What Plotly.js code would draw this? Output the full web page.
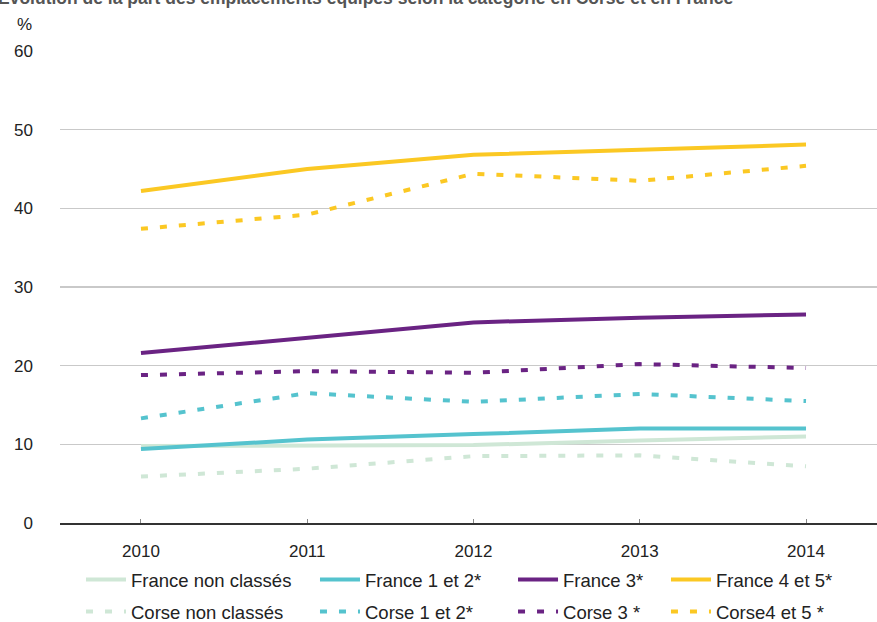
<!DOCTYPE html>
<html>
<head>
<meta charset="utf-8">
<script src="https://cdn.plot.ly/plotly-3.0.1.min.js"></script>
<style>html,body{margin:0;padding:0;background:#fff;}#chart{width:877px;height:622px;}</style>
</head>
<body>
<div id="chart"></div>
<script>
const years = [2010, 2011, 2012, 2013, 2014];
const seriesNames = ["France non classés", "Corse non classés", "France 1 et 2*", "Corse 1 et 2*", "France 3*", "Corse 3 *", "France 4 et 5*", "Corse4 et 5 *"];
const franceNonClasses = [9.8, 9.85, 9.9, 10.5, 11.0];
const corseNonClasses = [5.9, 6.9, 8.5, 8.6, 7.2];
const france12 = [9.4, 10.6, 11.3, 12.0, 12.0];
const corse12 = [13.3, 16.5, 15.4, 16.4, 15.5];
const france3 = [21.6, 23.6, 25.5, 26.1, 26.5];
const corse3 = [18.8, 19.3, 19.1, 20.2, 19.7];
const france45 = [42.2, 45.0, 46.8, 47.5, 48.1];
const corse45 = [37.4, 39.2, 44.4, 43.5, 45.4];
const yTicks = [0, 10, 20, 30, 40, 50, 60];

const colors = ["#cfe7d6", "#cfe7d6", "#55c3ce", "#55c3ce", "#6a2383", "#6a2383", "#fbc823", "#fbc823"];
const values = [franceNonClasses, corseNonClasses, france12, corse12, france3, corse3, france45, corse45];
const legendIds = ["legend", "legend", "legend2", "legend2", "legend3", "legend3", "legend4", "legend4"];

const traces = values.map((v, i) => ({
  x: years, y: v, type: "scatter", mode: "lines", name: seriesNames[i],
  legend: legendIds[i], legendgroup: "g" + i,
  line: {color: colors[i], width: 4, dash: (i % 2 === 1) ? "7px,12px" : "solid"},
  hoverinfo: "skip"
}));

const legendFont = {family: "Liberation Sans, Arial, sans-serif", size: 18.5, color: "#222"};
function mkLegend(x) {
  return {x: x, xanchor: "left", y: 0.098, yref: "container", yanchor: "top", orientation: "v",
    font: legendFont, tracegroupgap: 5, bgcolor: "rgba(0,0,0,0)", borderwidth: 0, itemwidth: 40};
}

const layout = {
  width: 877, height: 622,
  margin: {l: 60, r: 0, t: 51, b: 99},
  paper_bgcolor: "#fff", plot_bgcolor: "#fff",
  font: {family: "Liberation Sans, Arial, sans-serif", size: 17, color: "#222"},
  title: {text: "Évolution de la part des emplacements équipés selon la catégorie en Corse et en France",
    font: {family: "Liberation Sans, Arial, sans-serif", size: 17.5, color: "#555", weight: "bold"},
    x: 0, xref: "container", xanchor: "left", y: 0.994, yref: "container", yanchor: "bottom", pad: {l: -2}},
  xaxis: {range: [2009.513, 2014.427], tickvals: years, ticktext: years.map(String),
    showgrid: false, zeroline: false, showline: true, linecolor: "#333", linewidth: 1.5,
    ticks: "inside", ticklen: 4, tickcolor: "#888", tickwidth: 1, ticklabelstandoff: 12,
    tickfont: {size: 17, color: "#222"}, fixedrange: true},
  yaxis: {range: [0, 60], tickvals: yTicks, showgrid: true, gridcolor: "#c9c9c9", gridwidth: 1.5,
    zeroline: false, showline: false, ticks: "", ticklabelstandoff: 26,
    tickfont: {size: 17, color: "#222"}, fixedrange: true},
  showlegend: true,
  legend: mkLegend(0.0257),
  legend2: mkLegend(0.3121),
  legend3: mkLegend(0.5545),
  legend4: mkLegend(0.7417),
  annotations: [{text: "%", xref: "paper", yref: "paper", x: -0.044, y: 1.057, showarrow: false,
    xanchor: "center", yanchor: "middle", font: {size: 17, color: "#222"}}]
};

Plotly.newPlot("chart", traces, layout, {displayModeBar: false, staticPlot: true});
</script>
</body>
</html>
